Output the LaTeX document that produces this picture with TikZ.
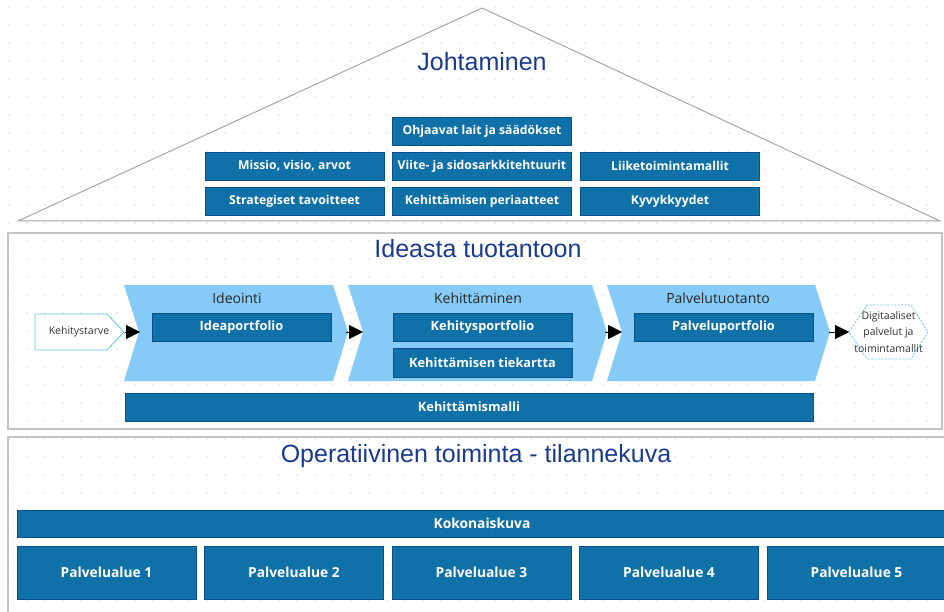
\documentclass[tikz,border=0pt]{standalone}
\usepackage{fontspec}
\setmainfont{Liberation Sans}
\newfontfamily\uifont{Open Sans}
\usetikzlibrary{arrows.meta}

\definecolor{boxblue}{HTML}{1070A8}
\definecolor{boxedge}{HTML}{0B4F8C}
\definecolor{chevblue}{HTML}{86CBF7}
\definecolor{titleblue}{HTML}{1A3A8E}
\definecolor{framegray}{HTML}{C4C4C4}
\definecolor{dotgray}{HTML}{B0B0B0}
\definecolor{lineblue}{HTML}{5EC4F0}

\begin{document}
\begin{tikzpicture}
  [x=1pt,y=-1pt,
   box/.style={draw=boxedge,fill=boxblue,text=white,font=\uifont\bfseries\fontsize{12.8}{15}\selectfont,
     minimum width=179pt,minimum height=28pt,inner sep=0pt},
   topbox/.style={box,font=\uifont\bfseries\fontsize{12.2}{15}\selectfont},
   areabox/.style={box,font=\uifont\bfseries\fontsize{13.8}{16}\selectfont},
   title/.style={text=titleblue,font=\fontsize{25}{29}\selectfont,inner sep=0pt},
   phase/.style={text=black!85,font=\uifont\fontsize{14}{16}\selectfont,inner sep=0pt},
   small/.style={text=black!80,font=\uifont\fontsize{10.5}{16.5}\selectfont,inner sep=0pt},
   flow/.style={-{Triangle[length=14pt,width=14pt]},black,thin}]
  \useasboundingbox (0,0) rectangle (944,612);
  \clip (0,0) rectangle (944,612);

  % grid
  \foreach \x in {9,27,...,944}
    \foreach \y in {7,25,...,612}
      \fill[dotgray] (\x,\y) circle (0.6pt);

  % Johtaminen
  \draw[black!35,line width=1pt] (18,221) -- (482,8) -- (940,221) -- cycle;
  \node[title] (johto) at (482,62) {Johtaminen};
  \node[topbox] (lait) at (482,131) {Ohjaavat lait ja säädökset};
  \node[topbox] (missio) at (294.5,166) {Missio, visio, arvot};
  \node[topbox] (viite) at (482,166) {Viite- ja sidosarkkitehtuurit};
  \node[topbox] (liike) at (670,166) {Liiketoimintamallit};
  \node[topbox] (strat) at (294.5,201.5) {Strategiset tavoitteet};
  \node[topbox] (peri) at (482,201.5) {Kehittämisen periaatteet};
  \node[topbox] (kyky) at (670,201.5) {Kyvykkyydet};

  % Ideasta tuotantoon
  \draw[framegray,line width=1.5pt] (8,233) rectangle (942,429);
  \node[title] (idea) at (478,249) {Ideasta tuotantoon};

  \fill[chevblue] (124,285) -- (333,285) -- (348,332) -- (333,381) -- (124,381) -- (139,332) -- cycle;
  \fill[chevblue] (348,285) -- (592,285) -- (607,332) -- (592,381) -- (348,381) -- (363,332) -- cycle;
  \fill[chevblue] (607,285) -- (815,285) -- (830,332) -- (815,381) -- (607,381) -- (622,332) -- cycle;
  \coordinate (c1in) at (140,332);
  \coordinate (c1out) at (346,332);
  \coordinate (c2in) at (363,332);
  \coordinate (c2out) at (605,332);
  \coordinate (c3in) at (622,332);
  \coordinate (c3out) at (829,332);

  \node[phase] (ideointi) at (237,298) {Ideointi};
  \node[phase] (kehit) at (478,298) {Kehittäminen};
  \node[phase] (tuot) at (718,298) {Palvelutuotanto};

  \node[box] (ideap) at (241.5,327) {Ideaportfolio};
  \node[box] (kehp) at (482.5,327) {Kehitysportfolio};
  \node[box,minimum height=29pt] (tiek) at (482.5,362.5) {Kehittämisen tiekartta};
  \node[box] (palvp) at (723.5,327) {Palveluportfolio};
  \node[box,minimum width=688pt] (malli) at (469,407) {Kehittämismalli};

  \draw[lineblue,fill=white,line width=0.8pt] (35,314) -- (107,314) -- (124,332) -- (107,350) -- (35,350) -- cycle;
  \node[small] (tarve) at (79,332) {Kehitystarve};
  \coordinate (tarveout) at (125,332);
  \draw[lineblue,fill=white,line width=0.8pt,dash pattern=on 2pt off 1.5pt]
    (849,332) -- (867,305) -- (911,305) -- (928,332) -- (911,359) -- (867,359) -- cycle;
  \node[small,align=center] (digi) at (888.5,332) {Digitaaliset\\palvelut ja\\toimintamallit};
  \coordinate (digiin) at (849,332);

  \draw[flow] (tarveout) -- (c1in);
  \draw[flow] (c1out) -- (c2in);
  \draw[flow] (c2out) -- (c3in);
  \draw[flow] (c3out) -- (digiin);

  % Operatiivinen toiminta
  \draw[framegray,line width=1.5pt] (8,437) rectangle (950,630);
  \node[title] (oper) at (476,456) {Operatiivinen toiminta - tilannekuva};
  \node[areabox,minimum width=930pt,minimum height=27pt] (koko) at (482,523.5) {Kokonaiskuva};
  \foreach \i in {1,...,5}
    \node[areabox,minimum height=53pt] (alue\i) at (106.5+187.5*\i-187.5,572.5) {Palvelualue \i};
\end{tikzpicture}
\end{document}
